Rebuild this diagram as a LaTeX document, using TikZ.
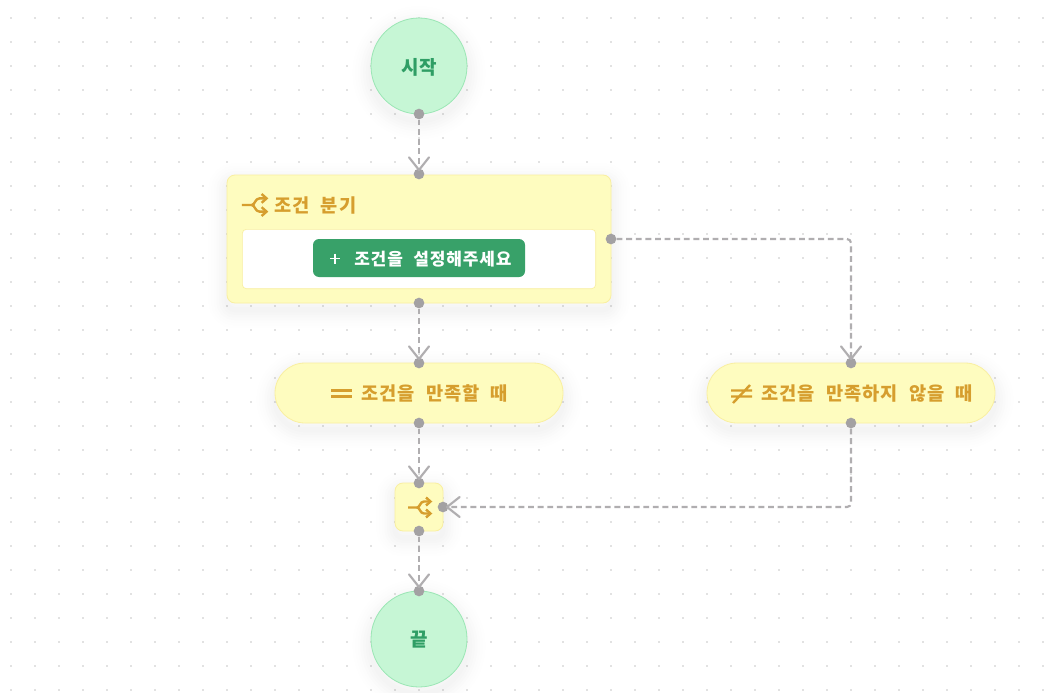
\documentclass[tikz,border=0pt]{standalone}
\usepackage{fontspec}
\usepackage{xcolor}
\usetikzlibrary{arrows.meta}
\newfontfamily\krfont[LetterSpace=5,WordSpace=2.2]{Noto Sans CJK KR}
\definecolor{yellowfill}{HTML}{FEFCBF}
\definecolor{yellowedge}{HTML}{F9EFA0}
\definecolor{yellowtext}{HTML}{D69E2E}
\definecolor{greenfill}{HTML}{C6F6D5}
\definecolor{greenedge}{HTML}{9AE6B4}
\definecolor{greentext}{HTML}{2F9E65}
\definecolor{buttongreen}{HTML}{38A169}
\definecolor{linegray}{HTML}{B0AEB0}
\definecolor{portgray}{HTML}{A3A1A3}
\definecolor{dotgray}{HTML}{C6C6C6}
\tikzset{
  softshadow/.style={
    preaction={draw=black,draw opacity=0.004,line width=28pt,transform canvas={yshift=-5pt}},
    preaction={draw=black,draw opacity=0.005,line width=24pt,transform canvas={yshift=-5pt}},
    preaction={draw=black,draw opacity=0.005,line width=20pt,transform canvas={yshift=-5pt}},
    preaction={draw=black,draw opacity=0.006,line width=16pt,transform canvas={yshift=-5pt}},
    preaction={draw=black,draw opacity=0.006,line width=12pt,transform canvas={yshift=-5pt}},
    preaction={draw=black,draw opacity=0.007,line width=8pt,transform canvas={yshift=-5pt}},
    preaction={draw=black,draw opacity=0.007,line width=4pt,transform canvas={yshift=-5pt}}},
  startend/.style={circle,minimum size=72pt,inner sep=0pt,fill=greenfill,draw=greenedge,line width=0.6pt,softshadow},
  yellowbox/.style={rectangle,rounded corners=6pt,fill=yellowfill,draw=yellowedge,line width=0.6pt,softshadow},
  pill/.style={yellowbox,rounded corners=22.5pt,minimum width=216pt,minimum height=45pt,inner sep=0pt},
  port/.style={circle,fill=portgray,minimum size=8pt,inner sep=0pt},
  flow/.style={draw=linegray,line width=1.6pt,dash pattern=on 4.4pt off 2.8pt,rounded corners=3pt,shorten >=-2pt,
    -{Straight Barb[length=9.5pt,width=15pt,line width=1.6pt,round]}},
  icon/.style={draw=yellowtext,line width=1.8pt},
  label/.style={text=yellowtext,font=\krfont\bfseries\fontsize{14}{16}\selectfont,inner sep=0pt},
  round label/.style={text=greentext,font=\krfont\bfseries\fontsize{14.25}{16}\selectfont,inner sep=0pt}
}
\newcommand{\shuffleicon}[3]{%
  \begin{scope}[shift={(#1,#2)},scale=#3]
    \draw[icon] (-12,0)--(-3,0) (-3,0)..controls (0,0) and (0,-6) .. (4,-6)--(10,-6);
    \draw[icon] (-3,0)..controls (0,0) and (0,6) .. (4,6)--(10,6);
    \draw[icon] (6,-10)--(10.5,-6)--(6,-2) (6,2)--(10.5,6)--(6,10);
  \end{scope}}
\begin{document}
\begin{tikzpicture}[x=0.75pt,y=-0.75pt]
  \useasboundingbox (0,0) rectangle (1048,692);
  \fill[white] (0,0) rectangle (1048,692);
  % dotted background
  \foreach \i in {0,...,43}
    \foreach \j in {0,...,28}
      \fill[dotgray] ({11+24*\i},{18+24*\j}) circle (0.85);

  \node[startend] (start) at (419,66) {};
  \node[round label] (starttext) at (419,67) {시작};

  \node[yellowbox,minimum width=288pt,minimum height=96pt] (branch) at (419,239) {};
  \shuffleicon{255}{205}{1.1}
  \node[label,anchor=west] (branchtext) at (274,205.5) {조건 분기};
  \node[rectangle,rounded corners=3pt,fill=white,draw=yellowedge,line width=0.5pt,minimum width=265pt,minimum height=44.5pt] (condbox) at (419,259) {};
  \node[rectangle,rounded corners=4.5pt,fill=buttongreen,minimum width=159pt,minimum height=28.5pt] (condbutton) at (419,258) {};
  \draw[draw=white,line width=1.1pt] (330,258.5)--(340,258.5) (335,253.5)--(335,263.5);
  \node[text=white,font=\krfont\bfseries\fontsize{12.75}{14}\selectfont,anchor=west,inner sep=0pt] (condtext) at (354,259) {조건을 설정해주세요};

  \node[pill] (yes) at (419,393) {};
  \draw[icon] (331,390.5)--(352,390.5) (331,396.5)--(352,396.5);
  \node[label,anchor=west] (yestext) at (361,393.5) {조건을 만족할 때};

  \node[pill] (no) at (851,393) {};
  \draw[icon] (731,390.5)--(752,390.5) (731,396.5)--(752,396.5) (733,403)--(750,385);
  \node[label,anchor=west] (notext) at (761,393.5) {조건을 만족하지 않을 때};

  \node[yellowbox,minimum size=36pt,inner sep=0pt] (merge) at (419,507) {};
  \shuffleicon{420}{507.5}{1}

  \node[startend] (end) at (419,639) {};
  \node[round label] (endtext) at (419,640) {끝};

  % ports
  \node[port] (p1) at (419,114) {};
  \node[port] (p2) at (419,174) {};
  \node[port] (p3) at (419,303) {};
  \node[port] (p4) at (419,363) {};
  \node[port] (p5) at (611,239) {};
  \node[port] (p6) at (851,363) {};
  \node[port] (p7) at (419,423) {};
  \node[port] (p8) at (419,483) {};
  \node[port] (p9) at (851,423) {};
  \node[port] (p10) at (443,507) {};
  \node[port] (p11) at (419,531) {};
  \node[port] (p12) at (419,591) {};

  % connectors
  \draw[flow] (p1)--(p2);
  \draw[flow] (p3)--(p4);
  \draw[flow] (p5)-|(p6);
  \draw[flow] (p7)--(p8);
  \draw[flow] (p9)|-(p10);
  \draw[flow] (p11)--(p12);
\end{tikzpicture}
\end{document}
